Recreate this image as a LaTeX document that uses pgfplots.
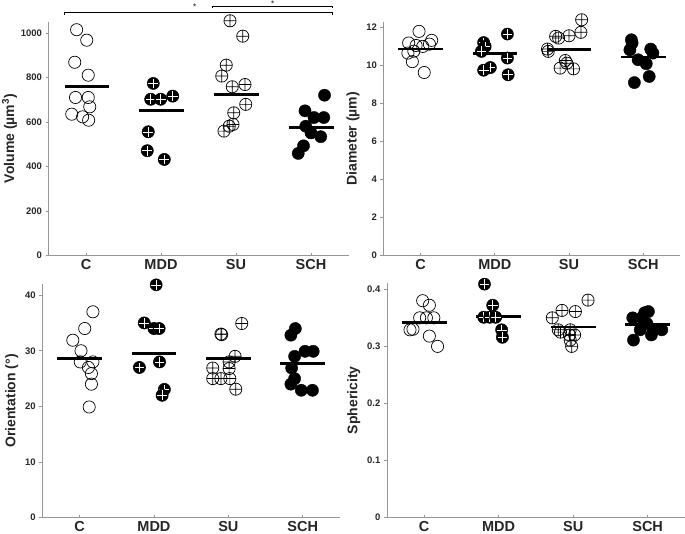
\documentclass[border=0pt]{standalone}
\usepackage{pgfplots}
\pgfplotsset{compat=1.18}
\usepackage{fontspec}
\setmainfont{Liberation Sans}
\pgfdeclareplotmark{mdd}{%
  \pgfpathcircle{\pgfpointorigin}{\pgfplotmarksize}%
  \pgfsetfillcolor{black}\pgfsetstrokecolor{black}%
  \pgfusepathqfillstroke
  \pgfsetstrokecolor{white}%
  \pgfsetlinewidth{0.55pt}%
  \pgfpathmoveto{\pgfpoint{-0.8\pgfplotmarksize}{0pt}}%
  \pgfpathlineto{\pgfpoint{0.8\pgfplotmarksize}{0pt}}%
  \pgfpathmoveto{\pgfpoint{0pt}{-0.8\pgfplotmarksize}}%
  \pgfpathlineto{\pgfpoint{0pt}{0.8\pgfplotmarksize}}%
  \pgfusepathqstroke
}
\definecolor{axgray}{RGB}{150,150,150}
\definecolor{txt}{RGB}{38,38,38}
\pgfplotsset{
  panel/.style={scale only axis, xmin=0.5, xmax=4.5, ymin=0,
    axis x line=bottom, axis y line=left,
    axis line style={-, draw=axgray, line width=0.6pt},
    xtick={1,2,3,4}, xticklabels={C,MDD,SU,SCH},
    xtick align=inside, ytick align=outside, major tick length=3pt,
    tick style={axgray, line width=0.6pt},
    xticklabel style={font=\fontsize{14.5}{14.5}\selectfont\bfseries, text=txt},
    yticklabel style={font=\fontsize{9.5}{10}\selectfont\bfseries, text=txt},
    ylabel style={font=\fontsize{14}{14}\selectfont\bfseries, text=txt},
    /pgf/number format/assume math mode=true,
    /pgf/number format/1000 sep={},
    clip=false},
  cg/.style={only marks, mark=o, mark size=6.1pt, mark options={draw=black, line width=0.7pt}},
  mg/.style={only marks, mark=mdd, mark size=6.1pt},
  sg/.style={only marks, mark=oplus, mark size=6.1pt, mark options={draw=black, line width=0.7pt}},
  hg/.style={only marks, mark=*, mark size=6.1pt, mark options={draw=black, fill=black}},
  meanline/.style={no marks, black, line width=2.8pt, unbounded coords=jump},
}
\begin{document}
\begin{tikzpicture}
\useasboundingbox (0,0) rectangle (685pt,-534pt);
% ---------- Volume ----------
\begin{axis}[panel, at={(48.5pt,-255.7pt)}, anchor=south west, width=300pt, height=234pt,
  ymax=1050, ytick={0,200,400,600,800,1000}, ylabel={Volume (µm\textsuperscript{3})},
  ylabel shift=-3pt]
\addplot[cg] table {
x y
0.875 1014
1.01 967
0.85 868
1.03 810
0.86 710
1.03 710
1.05 668
0.81 635
0.955 623
1.035 608
};
\addplot[mg] table {
x y
1.897 773
1.863 702
1.996 702
2.156 716
1.83 556
1.817 471
2.044 432
};
\addplot[sg] table {
x y
2.92 1054
3.09 985
2.87 855
2.81 806
2.95 758
3.12 768
3.13 679
2.97 641
2.96 589
2.91 581
2.84 559
};
\addplot[hg] table {
x y
4.18 720
3.92 650
4.04 620
4.17 620
3.93 581
4.0 551
4.13 534
3.9 493
3.83 459
};
\addplot[meanline] coordinates {(0.72,760) (1.3,760) (1.5,nan) (1.71,652) (2.3,652) (2.5,nan) (2.7,725) (3.3,725) (3.5,nan) (3.7,575) (4.3,575)};
\draw[black, line width=0.6pt] (axis cs:0.707,1080) -- (axis cs:0.707,1090) -- (axis cs:4.28,1090) -- (axis cs:4.28,1080);
\draw[black, line width=0.6pt] (axis cs:2.69,1110) -- (axis cs:2.69,1120) -- (axis cs:4.28,1120) -- (axis cs:4.28,1110);
\node[font=\footnotesize, inner sep=0pt, anchor=north] at (axis cs:2.45,1130) {*};
\node[font=\footnotesize, inner sep=0pt, anchor=north] at (axis cs:3.49,1145) {*};
\end{axis}
% ---------- Diameter ----------
\begin{axis}[panel, at={(383.4pt,-255.7pt)}, anchor=south west, width=297pt, height=234pt,
  ymax=12.3, ytick={0,2,4,6,8,10,12}, ylabel={Diameter (µm)}]
\addplot[cg] table {
x y
0.98 11.79
0.84 11.18
1.15 11.32
1.12 11.12
0.94 11.05
1.03 11.0
0.83 10.65
0.91 10.75
0.89 10.2
1.05 9.63
};
\addplot[mg] table {
x y
2.17 11.65
1.85 11.2
1.87 11.0
1.82 10.74
2.17 10.39
1.94 9.89
1.85 9.75
2.18 9.51
};
\addplot[sg] table {
x y
3.17 12.4
3.16 11.74
3.0 11.56
2.82 11.53
2.86 11.44
2.71 10.86
2.72 10.74
2.95 10.26
2.97 10.12
2.88 9.86
3.06 9.82
};
\addplot[hg] table {
x y
3.84 11.35
3.85 11.18
3.82 10.82
4.1 10.86
4.13 10.65
3.93 10.3
4.04 10.09
4.08 9.42
3.88 9.1
};
\addplot[meanline] coordinates {(0.7,10.86) (1.3,10.86) (1.5,nan) (1.7,10.61) (2.3,10.61) (2.5,nan) (2.7,10.82) (3.3,10.82) (3.5,nan) (3.7,10.44) (4.3,10.44)};
\end{axis}
% ---------- Orientation ----------
\begin{axis}[panel, at={(42.3pt,-517.7pt)}, anchor=south west, width=297.7pt, height=233.7pt,
  ymax=42, ytick={0,10,20,30,40}, ylabel={Orientation (°)}]
\addplot[cg] table {
x y
1.18 37.0
1.07 34.0
0.91 31.9
1.02 30.0
1.01 28.0
1.18 28.0
1.12 27.0
1.16 25.9
1.16 24.0
1.13 19.9
};
\addplot[mg] table {
x y
2.03 41.85
1.87 35.0
2.0 34.0
2.07 34.0
1.805 27.0
2.075 28.0
2.14 23.06
2.11 22.0
};
\addplot[sg] table {
x y
2.9 33.0
2.91 32.9
3.18 34.9
3.09 29.0
3.01 28.0
2.79 26.9
3.01 26.8
2.79 25.0
2.9 25.0
3.02 25.0
3.1 23.1
};
\addplot[hg] table {
x y
3.84 32.8
3.9 34.0
3.89 29.0
4.03 29.9
4.14 29.9
3.85 26.9
3.89 25.0
3.84 24.0
3.98 22.9
4.13 22.9
};
\addplot[meanline] coordinates {(0.7,28.6) (1.3,28.6) (1.5,nan) (1.7,29.46) (2.3,29.46) (2.5,nan) (2.7,28.6) (3.3,28.6) (3.5,nan) (3.7,27.7) (4.3,27.7)};
\end{axis}
% ---------- Sphericity ----------
\begin{axis}[panel, at={(386.9pt,-517.7pt)}, anchor=south west, width=298pt, height=234.7pt,
  ymax=0.411, ytick={0,0.1,0.2,0.3,0.4}, ylabel={Sphericity},
  yticklabel style={/pgf/number format/fixed, /pgf/number format/precision=1}]
\addplot[cg] table {
x y
0.98 0.380
1.07 0.372
0.94 0.350
1.03 0.350
1.13 0.350
0.81 0.329
0.85 0.330
1.07 0.318
1.18 0.300
};
\addplot[mg] table {
x y
1.81 0.409
1.92 0.372
1.80 0.351
1.88 0.351
1.96 0.351
2.04 0.329
2.05 0.316
};
\addplot[sg] table {
x y
3.2 0.381
3.03 0.361
2.85 0.363
2.72 0.350
2.80 0.329
2.96 0.329
3.02 0.320
2.95 0.320
2.96 0.311
2.98 0.300
2.83 0.325
};
\addplot[hg] table {
x y
3.81 0.311
3.80 0.350
3.96 0.359
4.01 0.361
3.92 0.350
3.99 0.340
3.90 0.329
4.08 0.329
4.19 0.329
4.05 0.320
};
\addplot[meanline] coordinates {(0.7,0.342) (1.3,0.342) (1.5,nan) (1.7,0.353) (2.3,0.353) (2.5,nan) (2.7,0.334) (3.3,0.334) (3.5,nan) (3.7,0.338) (4.3,0.338)};
\end{axis}
\end{tikzpicture}
\end{document}
